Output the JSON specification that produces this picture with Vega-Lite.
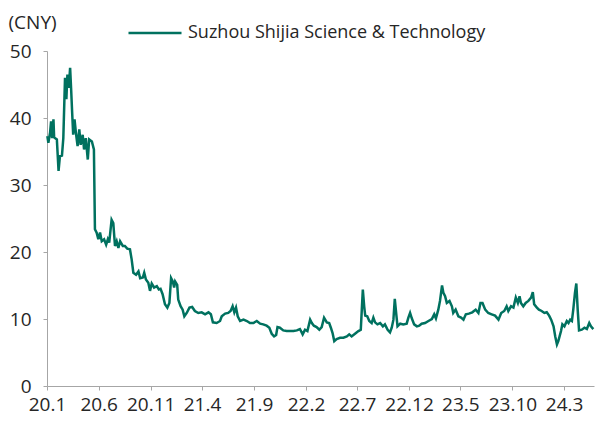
{
  "$schema": "https://vega.github.io/schema/vega-lite/v6.json",
  "width": 547,
  "height": 335,
  "autosize": "none",
  "padding": {"left": 47, "top": 51, "right": 7, "bottom": 35},
  "config": {
    "font": "Open Sans",
    "view": {"stroke": null},
    "axis": {"grid": false, "domainColor": "#a6a6a6", "tickColor": "#a6a6a6", "tickSize": 4, "labelColor": "#262626", "labelFontSize": 19, "titleColor": "#262626", "titleFontWeight": "normal"}
  },
  "data": {"values": [
    {"date": "2020-01-02", "price": 37.3},
    {"date": "2020-01-05", "price": 36.3},
    {"date": "2020-01-10", "price": 37.8},
    {"date": "2020-01-13", "price": 39.5},
    {"date": "2020-01-16", "price": 37.0},
    {"date": "2020-01-20", "price": 39.8},
    {"date": "2020-01-22", "price": 37.1},
    {"date": "2020-01-30", "price": 36.8},
    {"date": "2020-02-04", "price": 32.1},
    {"date": "2020-02-08", "price": 34.3},
    {"date": "2020-02-14", "price": 34.4},
    {"date": "2020-02-18", "price": 37.0},
    {"date": "2020-02-23", "price": 46.0},
    {"date": "2020-02-27", "price": 42.8},
    {"date": "2020-03-01", "price": 46.5},
    {"date": "2020-03-05", "price": 44.5},
    {"date": "2020-03-09", "price": 47.5},
    {"date": "2020-03-12", "price": 44.3},
    {"date": "2020-03-15", "price": 40.8},
    {"date": "2020-03-18", "price": 37.5},
    {"date": "2020-03-22", "price": 39.8},
    {"date": "2020-03-26", "price": 37.8},
    {"date": "2020-03-31", "price": 35.8},
    {"date": "2020-04-05", "price": 38.3},
    {"date": "2020-04-09", "price": 36.0},
    {"date": "2020-04-15", "price": 37.5},
    {"date": "2020-04-19", "price": 35.3},
    {"date": "2020-04-24", "price": 37.0},
    {"date": "2020-04-30", "price": 33.8},
    {"date": "2020-05-04", "price": 36.8},
    {"date": "2020-05-12", "price": 36.5},
    {"date": "2020-05-18", "price": 35.3},
    {"date": "2020-05-21", "price": 23.4},
    {"date": "2020-05-26", "price": 22.9},
    {"date": "2020-05-31", "price": 21.9},
    {"date": "2020-06-05", "price": 22.9},
    {"date": "2020-06-10", "price": 21.6},
    {"date": "2020-06-17", "price": 21.9},
    {"date": "2020-06-23", "price": 21.1},
    {"date": "2020-06-28", "price": 21.9},
    {"date": "2020-07-02", "price": 21.4},
    {"date": "2020-07-09", "price": 24.8},
    {"date": "2020-07-14", "price": 24.3},
    {"date": "2020-07-19", "price": 20.9},
    {"date": "2020-07-24", "price": 21.6},
    {"date": "2020-07-29", "price": 20.6},
    {"date": "2020-08-03", "price": 21.6},
    {"date": "2020-08-11", "price": 20.9},
    {"date": "2020-08-17", "price": 20.9},
    {"date": "2020-08-24", "price": 20.5},
    {"date": "2020-09-01", "price": 20.4},
    {"date": "2020-09-06", "price": 18.9},
    {"date": "2020-09-11", "price": 16.9},
    {"date": "2020-09-19", "price": 16.6},
    {"date": "2020-09-26", "price": 17.1},
    {"date": "2020-10-01", "price": 16.1},
    {"date": "2020-10-09", "price": 16.2},
    {"date": "2020-10-13", "price": 16.9},
    {"date": "2020-10-18", "price": 15.9},
    {"date": "2020-10-25", "price": 15.4},
    {"date": "2020-10-30", "price": 14.2},
    {"date": "2020-11-04", "price": 15.3},
    {"date": "2020-11-11", "price": 14.7},
    {"date": "2020-11-19", "price": 14.9},
    {"date": "2020-11-25", "price": 14.4},
    {"date": "2020-11-30", "price": 14.5},
    {"date": "2020-12-06", "price": 13.7},
    {"date": "2020-12-13", "price": 12.2},
    {"date": "2020-12-20", "price": 11.7},
    {"date": "2020-12-26", "price": 12.4},
    {"date": "2020-12-31", "price": 16.1},
    {"date": "2021-01-05", "price": 15.6},
    {"date": "2021-01-09", "price": 14.7},
    {"date": "2021-01-12", "price": 15.6},
    {"date": "2021-01-18", "price": 15.1},
    {"date": "2021-01-21", "price": 12.9},
    {"date": "2021-01-28", "price": 11.9},
    {"date": "2021-02-03", "price": 11.4},
    {"date": "2021-02-08", "price": 10.4},
    {"date": "2021-02-15", "price": 10.9},
    {"date": "2021-02-23", "price": 11.7},
    {"date": "2021-03-03", "price": 11.8},
    {"date": "2021-03-11", "price": 11.2},
    {"date": "2021-03-21", "price": 10.9},
    {"date": "2021-03-31", "price": 11.0},
    {"date": "2021-04-10", "price": 10.7},
    {"date": "2021-04-20", "price": 11.0},
    {"date": "2021-04-27", "price": 10.7},
    {"date": "2021-05-03", "price": 9.5},
    {"date": "2021-05-14", "price": 9.4},
    {"date": "2021-05-24", "price": 9.7},
    {"date": "2021-05-29", "price": 10.4},
    {"date": "2021-06-08", "price": 10.8},
    {"date": "2021-06-17", "price": 10.9},
    {"date": "2021-06-24", "price": 11.2},
    {"date": "2021-06-30", "price": 11.9},
    {"date": "2021-07-05", "price": 11.0},
    {"date": "2021-07-10", "price": 11.7},
    {"date": "2021-07-15", "price": 10.4},
    {"date": "2021-07-22", "price": 9.7},
    {"date": "2021-08-01", "price": 9.9},
    {"date": "2021-08-11", "price": 9.7},
    {"date": "2021-08-20", "price": 9.4},
    {"date": "2021-08-30", "price": 9.4},
    {"date": "2021-09-09", "price": 9.7},
    {"date": "2021-09-19", "price": 9.3},
    {"date": "2021-09-28", "price": 9.2},
    {"date": "2021-10-08", "price": 9.0},
    {"date": "2021-10-16", "price": 8.7},
    {"date": "2021-10-23", "price": 7.8},
    {"date": "2021-10-30", "price": 7.4},
    {"date": "2021-11-05", "price": 7.6},
    {"date": "2021-11-09", "price": 8.8},
    {"date": "2021-11-16", "price": 8.7},
    {"date": "2021-11-26", "price": 8.3},
    {"date": "2021-12-06", "price": 8.2},
    {"date": "2021-12-16", "price": 8.2},
    {"date": "2021-12-26", "price": 8.2},
    {"date": "2022-01-05", "price": 8.3},
    {"date": "2022-01-14", "price": 8.5},
    {"date": "2022-01-22", "price": 7.7},
    {"date": "2022-01-29", "price": 8.4},
    {"date": "2022-02-05", "price": 8.2},
    {"date": "2022-02-13", "price": 9.9},
    {"date": "2022-02-18", "price": 9.4},
    {"date": "2022-02-24", "price": 9.0},
    {"date": "2022-03-04", "price": 8.8},
    {"date": "2022-03-12", "price": 8.4},
    {"date": "2022-03-19", "price": 8.8},
    {"date": "2022-03-26", "price": 10.2},
    {"date": "2022-04-03", "price": 9.5},
    {"date": "2022-04-10", "price": 9.4},
    {"date": "2022-04-15", "price": 8.7},
    {"date": "2022-04-20", "price": 7.9},
    {"date": "2022-04-25", "price": 6.7},
    {"date": "2022-05-02", "price": 7.0},
    {"date": "2022-05-12", "price": 7.2},
    {"date": "2022-05-22", "price": 7.2},
    {"date": "2022-06-01", "price": 7.4},
    {"date": "2022-06-08", "price": 7.7},
    {"date": "2022-06-15", "price": 7.4},
    {"date": "2022-06-25", "price": 7.8},
    {"date": "2022-07-05", "price": 8.2},
    {"date": "2022-07-12", "price": 8.4},
    {"date": "2022-07-15", "price": 11.4},
    {"date": "2022-07-18", "price": 14.4},
    {"date": "2022-07-22", "price": 11.9},
    {"date": "2022-07-25", "price": 10.5},
    {"date": "2022-07-31", "price": 10.4},
    {"date": "2022-08-06", "price": 9.7},
    {"date": "2022-08-13", "price": 9.4},
    {"date": "2022-08-18", "price": 10.2},
    {"date": "2022-08-23", "price": 9.5},
    {"date": "2022-08-30", "price": 9.2},
    {"date": "2022-09-07", "price": 9.4},
    {"date": "2022-09-15", "price": 8.9},
    {"date": "2022-09-21", "price": 9.2},
    {"date": "2022-09-29", "price": 8.4},
    {"date": "2022-10-06", "price": 8.0},
    {"date": "2022-10-11", "price": 8.7},
    {"date": "2022-10-16", "price": 9.9},
    {"date": "2022-10-20", "price": 13.0},
    {"date": "2022-10-24", "price": 10.9},
    {"date": "2022-10-28", "price": 8.9},
    {"date": "2022-11-05", "price": 9.3},
    {"date": "2022-11-14", "price": 9.2},
    {"date": "2022-11-24", "price": 9.3},
    {"date": "2022-11-29", "price": 10.2},
    {"date": "2022-12-04", "price": 10.9},
    {"date": "2022-12-09", "price": 10.1},
    {"date": "2022-12-16", "price": 9.2},
    {"date": "2022-12-24", "price": 8.9},
    {"date": "2022-12-31", "price": 9.0},
    {"date": "2023-01-07", "price": 9.3},
    {"date": "2023-01-17", "price": 9.4},
    {"date": "2023-01-27", "price": 9.7},
    {"date": "2023-02-06", "price": 10.0},
    {"date": "2023-02-13", "price": 10.7},
    {"date": "2023-02-18", "price": 10.1},
    {"date": "2023-02-25", "price": 11.4},
    {"date": "2023-03-02", "price": 12.7},
    {"date": "2023-03-08", "price": 15.0},
    {"date": "2023-03-12", "price": 13.9},
    {"date": "2023-03-17", "price": 13.4},
    {"date": "2023-03-22", "price": 12.4},
    {"date": "2023-03-30", "price": 12.7},
    {"date": "2023-04-06", "price": 11.9},
    {"date": "2023-04-10", "price": 10.9},
    {"date": "2023-04-17", "price": 11.4},
    {"date": "2023-04-25", "price": 10.4},
    {"date": "2023-05-03", "price": 10.2},
    {"date": "2023-05-10", "price": 9.9},
    {"date": "2023-05-17", "price": 10.7},
    {"date": "2023-05-26", "price": 10.8},
    {"date": "2023-06-05", "price": 11.0},
    {"date": "2023-06-15", "price": 11.4},
    {"date": "2023-06-23", "price": 10.9},
    {"date": "2023-06-29", "price": 12.4},
    {"date": "2023-07-05", "price": 12.4},
    {"date": "2023-07-13", "price": 11.4},
    {"date": "2023-07-22", "price": 10.9},
    {"date": "2023-08-01", "price": 10.7},
    {"date": "2023-08-11", "price": 10.5},
    {"date": "2023-08-21", "price": 9.9},
    {"date": "2023-08-29", "price": 10.9},
    {"date": "2023-09-07", "price": 11.2},
    {"date": "2023-09-14", "price": 11.9},
    {"date": "2023-09-19", "price": 11.2},
    {"date": "2023-09-27", "price": 11.9},
    {"date": "2023-10-04", "price": 11.7},
    {"date": "2023-10-11", "price": 13.2},
    {"date": "2023-10-17", "price": 12.4},
    {"date": "2023-10-22", "price": 13.4},
    {"date": "2023-10-26", "price": 12.4},
    {"date": "2023-11-02", "price": 11.9},
    {"date": "2023-11-09", "price": 12.4},
    {"date": "2023-11-17", "price": 12.7},
    {"date": "2023-11-25", "price": 13.2},
    {"date": "2023-11-30", "price": 14.0},
    {"date": "2023-12-04", "price": 12.2},
    {"date": "2023-12-12", "price": 11.7},
    {"date": "2023-12-18", "price": 11.4},
    {"date": "2023-12-26", "price": 11.2},
    {"date": "2024-01-03", "price": 10.9},
    {"date": "2024-01-10", "price": 11.0},
    {"date": "2024-01-17", "price": 10.5},
    {"date": "2024-01-23", "price": 9.9},
    {"date": "2024-01-30", "price": 8.9},
    {"date": "2024-02-04", "price": 7.4},
    {"date": "2024-02-09", "price": 6.2},
    {"date": "2024-02-13", "price": 6.7},
    {"date": "2024-02-21", "price": 8.2},
    {"date": "2024-02-25", "price": 9.2},
    {"date": "2024-03-02", "price": 8.9},
    {"date": "2024-03-09", "price": 9.7},
    {"date": "2024-03-14", "price": 9.4},
    {"date": "2024-03-19", "price": 9.9},
    {"date": "2024-03-24", "price": 9.7},
    {"date": "2024-03-28", "price": 11.4},
    {"date": "2024-04-02", "price": 13.9},
    {"date": "2024-04-06", "price": 15.3},
    {"date": "2024-04-10", "price": 11.4},
    {"date": "2024-04-14", "price": 8.3},
    {"date": "2024-04-22", "price": 8.4},
    {"date": "2024-04-30", "price": 8.7},
    {"date": "2024-05-07", "price": 8.5},
    {"date": "2024-05-14", "price": 9.4},
    {"date": "2024-05-19", "price": 8.9},
    {"date": "2024-05-26", "price": 8.5}
  ]},
  "mark": {"type": "line", "strokeWidth": 2.5},
  "encoding": {
    "x": {
      "field": "date", "type": "temporal",
      "scale": {"type": "utc", "domain": [{"year": 2020, "month": 1, "date": 1, "utc": true}, {"year": 2024, "month": 5, "date": 28, "utc": true}]},
      "axis": {
        "title": null,
        "values": [
          {"year": 2020, "month": 1, "date": 1, "utc": true},
          {"year": 2020, "month": 6, "date": 1, "utc": true},
          {"year": 2020, "month": 11, "date": 1, "utc": true},
          {"year": 2021, "month": 4, "date": 1, "utc": true},
          {"year": 2021, "month": 9, "date": 1, "utc": true},
          {"year": 2022, "month": 2, "date": 1, "utc": true},
          {"year": 2022, "month": 7, "date": 1, "utc": true},
          {"year": 2022, "month": 12, "date": 1, "utc": true},
          {"year": 2023, "month": 5, "date": 1, "utc": true},
          {"year": 2023, "month": 10, "date": 1, "utc": true},
          {"year": 2024, "month": 3, "date": 1, "utc": true}
        ],
        "labelExpr": "utcFormat(datum.value, '%y.%-m')",
        "labelPadding": 5,
        "labelFlush": false,
        "labelOverlap": false
      }
    },
    "y": {
      "field": "price", "type": "quantitative",
      "scale": {"domain": [0, 50], "nice": false},
      "axis": {
        "values": [0, 10, 20, 30, 40, 50],
        "title": "(CNY)", "titleAngle": 0, "titleAlign": "left", "titleBaseline": "middle",
        "titleX": -39, "titleY": -29, "titleFontSize": 19,
        "labelPadding": 12
      }
    },
    "color": {
      "datum": "Suzhou Shijia Science & Technology",
      "scale": {"range": ["#00715f"]},
      "legend": {
        "title": null, "orient": "none", "legendX": 80, "legendY": -46,
        "symbolType": "stroke", "symbolSize": 2809, "symbolStrokeWidth": 2.5,
        "labelFontSize": 18, "labelColor": "#262626", "labelOffset": 5, "labelLimit": 0, "padding": 0
      }
    }
  }
}
